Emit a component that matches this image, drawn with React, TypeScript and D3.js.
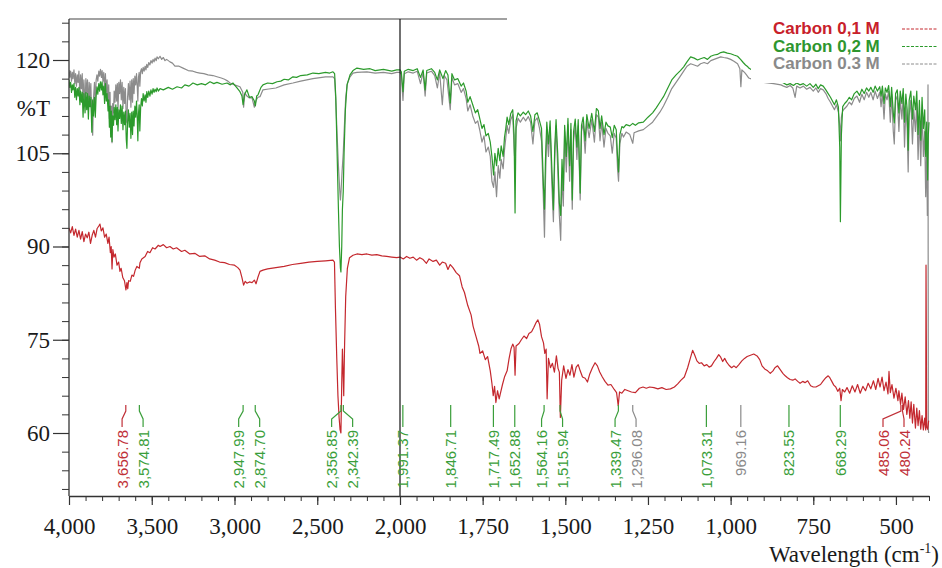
import * as d3 from 'd3';
import React, { useRef, useEffect } from 'react';

type Pt = [number, number];

// wavenumber (cm-1), %T
const carbon01: Pt[] = [
  [4000, 93.0], [3990, 92.2], [3980, 93.2], [3970, 91.8], [3960, 92.8], [3950, 91.5], [3940, 92.6], [3930, 91.2],
  [3920, 92.4], [3910, 90.8], [3900, 92.0], [3890, 91.4], [3880, 92.3], [3870, 90.5], [3860, 91.8], [3850, 92.6],
  [3840, 91.5], [3830, 92.9], [3820, 93.3], [3813, 93.6], [3805, 92.5], [3795, 93.0], [3785, 91.5], [3775, 92.0],
  [3765, 90.5], [3758, 91.5], [3750, 89.0], [3745, 90.0], [3740, 86.4], [3735, 89.5], [3728, 88.3], [3720, 88.8],
  [3710, 87.0], [3700, 87.5], [3692, 86.0], [3685, 86.5], [3675, 85.0], [3665, 84.5], [3656, 83.0], [3650, 84.2],
  [3645, 83.2], [3640, 84.5], [3630, 84.4], [3620, 85.4], [3610, 85.2], [3600, 86.2], [3590, 86.8], [3575, 86.5],
  [3571, 87.4], [3560, 88.0], [3540, 88.4], [3525, 89.2], [3511, 89.0], [3495, 89.8], [3480, 89.6], [3460, 90.2],
  [3450, 90.0], [3430, 90.3], [3410, 89.8], [3390, 90.0], [3370, 89.6], [3350, 89.8], [3320, 89.2], [3300, 89.4],
  [3270, 88.8], [3240, 88.9], [3210, 88.4], [3180, 88.5], [3150, 88.0], [3120, 87.8], [3090, 87.5], [3060, 87.4],
  [3030, 87.1], [3000, 87.0], [2980, 86.6], [2967, 86.2], [2955, 85.0], [2945, 83.8], [2935, 84.4], [2925, 84.1],
  [2910, 84.3], [2894, 84.2], [2880, 84.6], [2870, 84.0], [2858, 85.1], [2846, 86.0], [2828, 86.2], [2800, 86.4],
  [2750, 86.6], [2700, 86.8], [2650, 87.1], [2600, 87.3], [2550, 87.5], [2500, 87.6], [2450, 87.7], [2405, 87.8],
  [2396, 87.5], [2390, 80.0], [2382, 72.0], [2375, 66.0], [2368, 62.5], [2362, 60.5], [2357, 60.0], [2352, 68.0],
  [2348, 73.5], [2344, 70.0], [2340, 66.0], [2335, 74.0], [2328, 82.0], [2318, 86.5], [2305, 88.2], [2284, 88.6],
  [2260, 88.8], [2230, 88.7], [2200, 88.8], [2170, 88.6], [2140, 88.7], [2110, 88.5], [2080, 88.4], [2050, 88.3],
  [2020, 88.2], [2000, 88.3], [1990, 88.0], [1980, 88.4], [1970, 88.1], [1960, 88.3], [1950, 87.8], [1940, 88.2],
  [1930, 87.9], [1920, 87.3], [1912, 88.0], [1900, 87.6], [1890, 87.8], [1880, 87.0], [1872, 87.5], [1862, 87.3],
  [1855, 86.3], [1848, 87.1], [1840, 86.6], [1830, 85.8], [1820, 85.3], [1812, 83.5], [1805, 82.6], [1795, 80.5],
  [1785, 79.0], [1779, 77.2], [1770, 75.5], [1762, 74.0], [1758, 72.8], [1750, 73.2], [1742, 71.8], [1735, 72.3],
  [1727, 70.0], [1722, 68.0], [1718, 66.0], [1714, 67.5], [1710, 64.9], [1705, 66.8], [1700, 65.5], [1697, 66.2],
  [1690, 67.8], [1684, 69.0], [1676, 70.0], [1670, 72.0], [1664, 73.6], [1659, 74.3], [1655, 73.8], [1652, 69.3],
  [1649, 74.0], [1640, 74.4], [1633, 75.0], [1625, 75.6], [1617, 75.2], [1610, 76.0], [1602, 76.3], [1595, 77.0],
  [1588, 77.8], [1583, 78.2], [1578, 77.5], [1572, 75.5], [1566, 74.5], [1562, 72.8], [1558, 73.5], [1555, 65.5],
  [1551, 72.0], [1545, 70.5], [1539, 71.2], [1533, 69.8], [1527, 72.4], [1522, 70.4], [1518, 69.8], [1515, 62.5],
  [1511, 68.5], [1505, 70.8], [1498, 68.8], [1492, 70.2], [1486, 69.3], [1480, 71.0], [1474, 69.0], [1467, 70.6],
  [1461, 71.0], [1455, 70.0], [1448, 69.0], [1440, 68.8], [1433, 68.2], [1426, 69.5], [1418, 70.5], [1410, 71.3],
  [1403, 70.8], [1396, 69.8], [1388, 69.0], [1380, 68.3], [1371, 67.7], [1362, 67.8], [1352, 67.0], [1345, 66.5],
  [1340, 64.4], [1336, 66.6], [1329, 66.4], [1320, 67.0], [1310, 66.8], [1300, 66.6], [1288, 66.5], [1276, 67.2],
  [1265, 67.4], [1255, 67.2], [1245, 67.4], [1232, 67.3], [1220, 67.1], [1208, 67.3], [1195, 67.0], [1182, 67.1],
  [1170, 67.4], [1160, 67.9], [1150, 68.5], [1140, 69.0], [1130, 70.5], [1122, 72.0], [1115, 73.3], [1109, 72.6],
  [1102, 71.6], [1095, 71.2], [1088, 71.3], [1080, 70.8], [1072, 71.0], [1065, 70.6], [1058, 70.8], [1050, 71.5],
  [1043, 72.0], [1036, 72.6], [1030, 72.2], [1024, 71.5], [1018, 72.0], [1012, 71.4], [1005, 70.9], [997, 70.5],
  [990, 70.8], [983, 70.5], [975, 71.0], [966, 71.6], [958, 72.0], [950, 72.3], [940, 72.5], [930, 72.7],
  [920, 72.4], [912, 71.8], [905, 70.8], [897, 70.3], [888, 70.0], [880, 69.6], [872, 70.0], [866, 70.5],
  [858, 70.8], [850, 70.2], [842, 69.6], [835, 69.2], [828, 68.9], [820, 68.6], [812, 68.5], [805, 68.7],
  [797, 68.3], [790, 68.0], [782, 68.3], [775, 68.1], [767, 68.4], [758, 67.6], [750, 67.4], [742, 67.4],
  [735, 67.6], [728, 67.8], [720, 68.4], [712, 68.9], [705, 69.2], [700, 68.9], [694, 68.3], [688, 67.7],
  [682, 67.4], [676, 66.7], [670, 67.2], [666, 65.2], [662, 67.0], [655, 66.6], [648, 67.3], [640, 66.4],
  [632, 67.6], [624, 66.6], [616, 67.8], [608, 66.4], [600, 67.5], [592, 66.8], [584, 68.0], [576, 67.1],
  [568, 68.4], [561, 67.0], [554, 68.8], [548, 67.4], [542, 69.0], [536, 66.8], [530, 68.2], [524, 66.3],
  [521, 69.9], [517, 66.5], [512, 67.8], [506, 65.6], [500, 67.2], [494, 65.2], [491, 66.8], [486, 64.6],
  [482, 66.4], [477, 63.8], [472, 65.8], [467, 63.0], [462, 65.2], [458, 62.4], [454, 65.0], [450, 61.6],
  [446, 64.6], [441, 60.8], [437, 64.0], [433, 61.2], [429, 63.6], [425, 60.6], [421, 62.8], [417, 60.5],
  [413, 62.4], [410, 60.5], [409, 87.0], [407, 61.0], [404, 60.6], [401, 62.0]
];

const carbon02: Pt[] = [
  [4000, 116.8], [3995, 115.6], [3990, 116.4], [3985, 114.8], [3980, 116.0], [3976, 115.2], [3970, 116.2], [3965, 114.0],
  [3960, 115.6], [3955, 113.6], [3950, 115.4], [3945, 114.2], [3940, 115.6], [3934, 112.8], [3930, 115.0], [3925, 113.2],
  [3920, 114.8], [3915, 110.8], [3910, 114.6], [3903, 111.5], [3898, 114.8], [3893, 112.0], [3888, 114.6], [3883, 110.5],
  [3878, 114.2], [3873, 112.5], [3868, 114.0], [3862, 108.4], [3857, 113.6], [3852, 111.0], [3846, 114.0], [3841, 110.8],
  [3836, 114.2], [3831, 115.7], [3826, 114.5], [3820, 116.2], [3815, 115.0], [3810, 116.5], [3804, 115.2], [3800, 116.5],
  [3795, 114.4], [3790, 115.8], [3785, 113.0], [3780, 116.2], [3775, 113.4], [3770, 114.6], [3764, 111.8], [3760, 113.6],
  [3756, 109.2], [3752, 112.6], [3748, 107.6], [3744, 111.8], [3740, 106.9], [3736, 111.0], [3731, 109.5], [3727, 112.4],
  [3722, 110.4], [3717, 112.8], [3712, 109.6], [3708, 112.4], [3704, 108.6], [3699, 112.0], [3694, 110.6], [3689, 112.8],
  [3684, 109.8], [3679, 112.6], [3674, 108.8], [3669, 111.6], [3664, 109.6], [3659, 111.8], [3654, 107.2], [3650, 105.8],
  [3646, 110.0], [3641, 112.0], [3636, 109.2], [3631, 111.4], [3626, 107.4], [3621, 111.6], [3616, 108.0], [3612, 111.8],
  [3607, 109.4], [3602, 112.6], [3597, 110.8], [3592, 113.4], [3588, 111.0], [3584, 107.0], [3580, 111.4], [3576, 112.8],
  [3572, 108.6], [3567, 112.4], [3562, 113.8], [3557, 112.6], [3552, 114.6], [3546, 113.4], [3540, 114.4], [3535, 113.2],
  [3530, 114.9], [3524, 114.0], [3518, 115.0], [3511, 114.2], [3505, 115.2], [3498, 114.5], [3492, 115.4], [3486, 114.8],
  [3480, 115.3], [3473, 114.9], [3468, 115.5], [3460, 115.0], [3450, 115.4], [3430, 115.2], [3400, 115.6], [3375, 115.3],
  [3347, 115.7], [3320, 115.5], [3300, 116.0], [3275, 115.8], [3251, 116.3], [3225, 116.0], [3200, 116.2], [3175, 116.0],
  [3148, 116.5], [3125, 116.2], [3106, 116.4], [3075, 116.1], [3045, 116.3], [3025, 116.0], [3009, 116.3], [2985, 115.5],
  [2967, 114.9], [2955, 114.2], [2948, 112.8], [2940, 114.4], [2925, 115.2], [2910, 114.0], [2894, 114.1], [2880, 113.4],
  [2874, 112.6], [2866, 114.2], [2858, 114.4], [2840, 115.6], [2828, 116.0], [2800, 116.3], [2770, 116.2], [2743, 116.5],
  [2720, 116.6], [2700, 116.9], [2675, 116.8], [2647, 117.3], [2625, 117.2], [2600, 117.5], [2560, 117.6], [2526, 117.9],
  [2490, 117.8], [2450, 118.0], [2425, 117.9], [2405, 118.1], [2395, 117.8], [2388, 114.0], [2380, 105.0], [2372, 96.0],
  [2366, 90.0], [2360, 86.5], [2357, 85.9], [2352, 90.0], [2348, 96.0], [2343, 98.8], [2338, 105.0], [2330, 112.0],
  [2320, 116.0], [2302, 117.6], [2284, 118.3], [2260, 118.7], [2220, 118.5], [2181, 118.6], [2150, 118.3], [2100, 118.5],
  [2050, 118.2], [2020, 118.4], [2000, 118.4], [1996, 118.1], [1991, 114.9], [1987, 118.2], [1975, 118.5], [1960, 118.3],
  [1948, 118.6], [1938, 117.2], [1930, 118.4], [1924, 115.2], [1919, 118.3], [1905, 118.6], [1895, 118.0], [1887, 116.8],
  [1880, 118.4], [1870, 117.0], [1862, 118.3], [1855, 117.6], [1848, 113.1], [1843, 117.8], [1835, 116.8], [1825, 117.0],
  [1815, 115.8], [1808, 116.3], [1800, 115.0], [1795, 113.2], [1788, 114.1], [1780, 112.8], [1772, 111.5], [1765, 112.0],
  [1758, 110.4], [1752, 109.0], [1746, 109.6], [1740, 107.8], [1733, 108.2], [1727, 106.8], [1722, 104.5], [1717, 101.5],
  [1713, 105.0], [1708, 103.0], [1703, 105.8], [1698, 103.8], [1694, 106.2], [1688, 104.5], [1684, 107.5], [1680, 109.0],
  [1676, 110.8], [1671, 109.6], [1665, 111.4], [1659, 112.0], [1655, 108.0], [1652, 95.4], [1649, 110.2], [1643, 111.5],
  [1636, 111.0], [1627, 111.6], [1620, 111.2], [1612, 111.8], [1605, 111.0], [1598, 108.5], [1592, 111.2], [1585, 111.5],
  [1578, 110.2], [1572, 109.0], [1566, 99.5], [1563, 96.0], [1560, 104.0], [1556, 110.0], [1551, 106.5], [1546, 110.2],
  [1541, 103.0], [1536, 95.9], [1532, 106.0], [1528, 110.4], [1523, 105.0], [1518, 97.0], [1514, 95.0], [1510, 104.0],
  [1506, 99.0], [1502, 109.5], [1497, 104.5], [1492, 110.6], [1487, 103.0], [1483, 109.8], [1479, 97.5], [1475, 108.5],
  [1470, 110.5], [1465, 106.0], [1461, 110.4], [1455, 98.6], [1451, 109.5], [1446, 110.8], [1440, 107.0], [1435, 111.2],
  [1428, 109.0], [1420, 111.4], [1412, 108.5], [1406, 112.2], [1400, 111.8], [1395, 109.0], [1390, 111.0], [1383, 108.0],
  [1377, 110.0], [1371, 109.4], [1364, 109.2], [1358, 107.5], [1352, 109.5], [1346, 108.8], [1342, 104.5], [1339, 102.0],
  [1335, 108.0], [1329, 109.3], [1324, 109.1], [1316, 109.6], [1305, 109.4], [1296, 109.8], [1288, 109.5], [1278, 109.9],
  [1264, 110.0], [1250, 110.8], [1236, 111.5], [1225, 112.3], [1214, 113.2], [1203, 114.1], [1190, 115.5], [1178, 116.8],
  [1165, 117.6], [1152, 118.3], [1142, 118.9], [1132, 119.7], [1121, 120.5], [1110, 120.3], [1100, 120.0], [1091, 120.2],
  [1080, 120.4], [1070, 120.1], [1060, 120.6], [1050, 120.8], [1040, 120.9], [1030, 121.2], [1021, 121.3], [1010, 121.1],
  [1000, 121.0], [990, 120.8], [979, 120.6], [970, 120.1], [962, 119.6], [955, 119.2], [948, 118.9], [945, 118.7],
  [930, 118.2], [900, 117.5], [870, 116.9], [848, 116.5], [840, 116.3], [830, 116.0], [820, 116.2], [810, 115.9],
  [800, 116.3], [790, 116.0], [780, 116.2], [770, 115.8], [760, 116.2], [750, 115.6], [742, 116.1], [735, 115.4],
  [728, 116.0], [720, 115.8], [712, 115.2], [705, 114.6], [698, 114.0], [692, 113.4], [686, 112.8], [680, 113.6],
  [674, 112.4], [670, 106.0], [668, 94.0], [665, 108.0], [661, 112.5], [655, 113.0], [648, 113.4], [641, 114.0],
  [634, 113.6], [626, 114.6], [618, 115.0], [610, 114.3], [603, 115.3], [596, 114.6], [589, 115.5], [582, 115.0],
  [576, 115.6], [569, 114.8], [563, 115.8], [556, 115.0], [549, 115.7], [545, 114.2], [541, 115.8], [536, 113.0],
  [532, 115.5], [527, 114.8], [522, 115.9], [517, 112.5], [513, 115.6], [508, 111.5], [505, 109.9], [501, 114.6],
  [496, 115.2], [491, 111.5], [487, 115.0], [482, 113.0], [478, 115.4], [474, 110.0], [470, 114.5], [466, 112.0],
  [463, 105.5], [460, 113.5], [455, 115.0], [450, 110.5], [446, 114.2], [441, 112.0], [437, 115.0], [433, 108.0],
  [429, 113.5], [425, 107.1], [421, 114.0], [417, 109.0], [413, 112.0], [410, 104.5], [407, 110.0], [404, 100.7],
  [402, 108.0], [400, 110.0]
];

const carbon03: Pt[] = [
  [4000, 118.4], [3995, 117.2], [3990, 118.2], [3985, 116.6], [3980, 118.0], [3976, 117.0], [3970, 118.4], [3965, 116.2],
  [3960, 117.8], [3955, 115.8], [3950, 117.6], [3945, 116.4], [3940, 118.2], [3934, 114.2], [3930, 117.6], [3925, 115.4],
  [3920, 117.8], [3915, 113.0], [3910, 116.8], [3903, 112.6], [3898, 117.0], [3893, 114.6], [3888, 116.8], [3883, 112.0],
  [3878, 116.4], [3873, 114.0], [3868, 116.2], [3862, 109.8], [3857, 107.9], [3852, 113.8], [3846, 116.4], [3841, 113.0],
  [3836, 116.8], [3831, 117.6], [3826, 116.6], [3820, 118.2], [3815, 117.4], [3810, 118.5], [3804, 117.2], [3800, 118.3],
  [3795, 116.6], [3790, 118.0], [3785, 115.2], [3780, 117.8], [3775, 114.6], [3770, 116.8], [3764, 113.0], [3760, 116.0],
  [3756, 110.6], [3752, 114.8], [3748, 108.2], [3744, 112.6], [3740, 106.7], [3736, 113.0], [3731, 111.5], [3727, 115.0],
  [3722, 113.2], [3717, 116.0], [3712, 113.4], [3708, 116.2], [3704, 112.0], [3699, 116.4], [3694, 114.6], [3689, 116.8],
  [3684, 113.6], [3679, 116.4], [3674, 112.2], [3669, 115.6], [3664, 113.0], [3659, 115.4], [3654, 110.4], [3650, 109.9],
  [3646, 114.0], [3641, 116.2], [3636, 113.6], [3631, 116.6], [3626, 112.4], [3621, 116.8], [3616, 113.2], [3612, 117.0],
  [3607, 114.6], [3602, 117.4], [3597, 116.0], [3592, 117.8], [3588, 116.0], [3584, 113.4], [3580, 117.2], [3576, 118.0],
  [3572, 115.8], [3567, 118.2], [3562, 118.6], [3557, 117.8], [3552, 118.8], [3546, 118.2], [3540, 119.0], [3535, 118.4],
  [3530, 119.3], [3524, 118.8], [3518, 119.6], [3511, 119.2], [3505, 119.9], [3498, 119.5], [3492, 120.1], [3486, 119.7],
  [3480, 120.3], [3473, 119.9], [3468, 120.5], [3460, 120.2], [3450, 120.6], [3440, 120.1], [3430, 120.4], [3420, 119.9],
  [3410, 120.1], [3390, 119.7], [3375, 119.5], [3360, 119.0], [3335, 119.0], [3311, 118.7], [3280, 118.3], [3251, 118.2],
  [3230, 118.0], [3209, 117.9], [3185, 117.8], [3160, 117.6], [3130, 117.5], [3106, 117.3], [3080, 117.1], [3060, 116.9],
  [3040, 116.6], [3027, 116.3], [3000, 116.0], [2967, 115.7], [2950, 114.8], [2945, 112.4], [2937, 114.7], [2925, 114.2],
  [2910, 113.9], [2894, 113.9], [2880, 112.4], [2870, 113.5], [2858, 114.0], [2846, 114.1], [2828, 115.2], [2804, 115.3],
  [2750, 115.5], [2700, 116.0], [2647, 116.3], [2600, 116.6], [2526, 117.0], [2450, 117.3], [2405, 117.3], [2395, 117.0],
  [2388, 113.5], [2380, 108.0], [2372, 103.0], [2364, 99.0], [2360, 97.5], [2356, 99.0], [2350, 102.0], [2343, 105.0],
  [2335, 110.0], [2328, 114.0], [2318, 116.2], [2302, 117.3], [2284, 117.9], [2260, 118.0], [2200, 118.1], [2150, 117.9],
  [2100, 118.0], [2050, 117.8], [2020, 118.0], [2000, 118.0], [1996, 117.7], [1991, 113.5], [1987, 117.8], [1975, 118.1],
  [1960, 117.9], [1948, 118.2], [1938, 116.2], [1930, 118.0], [1924, 114.2], [1919, 117.9], [1905, 118.2], [1895, 117.5],
  [1887, 115.5], [1880, 118.0], [1872, 112.8], [1866, 117.5], [1858, 116.8], [1848, 112.0], [1843, 117.2], [1835, 116.0],
  [1825, 116.2], [1815, 114.8], [1808, 115.4], [1800, 113.8], [1795, 111.8], [1788, 112.8], [1780, 111.0], [1772, 109.8],
  [1765, 110.2], [1758, 108.5], [1752, 106.8], [1746, 107.8], [1740, 105.2], [1733, 106.0], [1727, 104.5], [1722, 100.5],
  [1717, 99.5], [1713, 102.0], [1708, 98.0], [1703, 103.0], [1698, 101.0], [1694, 104.0], [1688, 102.5], [1684, 105.5],
  [1680, 107.5], [1676, 109.5], [1671, 108.2], [1665, 110.4], [1659, 111.2], [1655, 106.0], [1652, 103.0], [1649, 109.0],
  [1643, 110.6], [1636, 110.0], [1627, 110.8], [1620, 110.2], [1612, 110.9], [1605, 110.0], [1598, 106.5], [1592, 110.2],
  [1585, 110.7], [1578, 109.0], [1572, 107.0], [1566, 97.0], [1563, 91.5], [1560, 100.5], [1556, 108.8], [1551, 104.5],
  [1546, 109.2], [1541, 100.5], [1536, 94.0], [1532, 104.0], [1528, 109.4], [1523, 102.5], [1518, 95.0], [1514, 91.0],
  [1510, 101.5], [1506, 96.5], [1502, 108.5], [1497, 102.0], [1492, 109.6], [1487, 100.5], [1483, 108.8], [1479, 96.0],
  [1475, 107.0], [1470, 109.5], [1465, 104.0], [1461, 109.4], [1455, 97.5], [1451, 108.5], [1446, 109.8], [1440, 105.0],
  [1435, 110.2], [1428, 107.5], [1420, 110.4], [1412, 106.8], [1406, 111.2], [1400, 110.8], [1395, 107.0], [1390, 110.0],
  [1383, 106.0], [1377, 109.0], [1371, 108.2], [1364, 107.8], [1358, 105.0], [1352, 108.2], [1346, 107.4], [1342, 102.5],
  [1339, 100.5], [1335, 106.5], [1329, 108.2], [1324, 107.6], [1316, 108.4], [1305, 108.0], [1296, 106.6], [1292, 108.3],
  [1278, 108.6], [1264, 108.8], [1250, 109.4], [1236, 110.0], [1225, 110.8], [1214, 111.6], [1203, 112.6], [1190, 114.0],
  [1178, 115.4], [1165, 116.4], [1152, 117.4], [1142, 118.2], [1132, 119.0], [1121, 119.4], [1110, 119.2], [1100, 119.0],
  [1091, 119.4], [1080, 119.6], [1070, 119.4], [1060, 119.9], [1050, 120.1], [1040, 120.3], [1030, 120.5], [1021, 120.4],
  [1010, 120.3], [1000, 120.1], [990, 119.8], [979, 119.4], [972, 118.6], [969, 115.7], [966, 118.4], [958, 118.0],
  [952, 117.6], [945, 117.1], [930, 116.8], [900, 116.4], [870, 116.2], [848, 116.0], [840, 115.8], [830, 115.6],
  [820, 115.9], [812, 115.5], [805, 114.0], [800, 115.8], [790, 115.5], [780, 115.8], [770, 115.3], [760, 115.6],
  [750, 115.0], [742, 115.5], [735, 114.8], [728, 115.4], [720, 115.2], [712, 114.6], [705, 113.8], [698, 113.2],
  [692, 112.6], [686, 112.0], [680, 112.8], [674, 111.6], [670, 109.5], [668, 107.0], [665, 110.8], [661, 111.8],
  [655, 112.2], [648, 112.6], [641, 113.2], [634, 112.8], [626, 113.8], [618, 114.2], [610, 113.2], [603, 114.5],
  [596, 113.6], [589, 114.8], [582, 114.0], [576, 114.8], [569, 113.6], [563, 115.0], [556, 113.8], [549, 114.8],
  [545, 112.5], [541, 114.8], [536, 110.5], [532, 114.5], [527, 113.6], [522, 115.0], [517, 110.0], [513, 114.5],
  [508, 108.5], [505, 106.5], [501, 113.5], [496, 114.2], [491, 108.5], [487, 113.8], [482, 110.5], [478, 114.2],
  [474, 106.0], [470, 112.5], [466, 109.0], [463, 102.0], [460, 111.0], [455, 113.5], [450, 106.5], [446, 112.0],
  [441, 108.5], [437, 113.0], [433, 104.0], [429, 111.0], [425, 103.0], [421, 112.0], [417, 104.5], [413, 108.5],
  [410, 98.0], [407, 106.0], [405, 95.0], [403, 116.0], [402, 60.5], [401, 60.0]
];

const seriesNames = ['Carbon 0,1 M', 'Carbon 0,2 M', 'Carbon 0.3 M'];

// labelled peaks and the spectrum each label belongs to (0 = 0,1 M, 1 = 0,2 M, 2 = 0.3 M)
const peakWavenumbers = [3656.78, 3574.81, 2947.99, 2874.70, 2356.85, 2342.39, 1991.37, 1846.71, 1717.49, 1652.88,
  1564.16, 1515.94, 1339.47, 1296.08, 1073.31, 969.16, 823.55, 668.29, 485.06, 480.24];
const peakSeries = [0, 1, 1, 1, 1, 1, 1, 1, 1, 1, 1, 1, 1, 2, 1, 2, 1, 1, 0, 0];

const xTickValues = [4000, 3500, 3000, 2500, 2000, 1750, 1500, 1250, 1000, 750, 500];
const yTickValues = [60, 75, 90, 105, 120];

const lineColors = ['#c4282e', '#2b9a2b', '#8c8c8c'];
const textColors = ['#c8202a', '#2e962e', '#8a8a8a'];
const labelColors = ['#c03038', '#3a9e3a', '#8a8a8a'];
const serif = '"Liberation Serif", "Times New Roman", serif';
const sans = '"Liberation Sans", Arial, sans-serif';

function Spectrum({ width, height }: { width: number; height: number }) {
  const ref = useRef<SVGSVGElement>(null);

  useEffect(() => {
    const svg = d3.select(ref.current);
    svg.selectAll('*').remove();

    const top = 19, bottom = 496, left = 69;
    const x = d3.scaleLinear().domain([4000, 2000, 400]).range([left, 400, 929]);
    const y = d3.scaleLinear().domain([60, 120]).range([433, 60]);

    svg.append('defs').append('clipPath').attr('id', 'plot-clip')
      .append('rect').attr('x', left).attr('y', top).attr('width', 929 - left + 2).attr('height', bottom - top);

    // spectra
    const line = d3.line<Pt>().x(d => x(d[0])).y(d => y(d[1]));
    const plot = svg.append('g').attr('clip-path', 'url(#plot-clip)');
    [carbon03, carbon02, carbon01].forEach((data, i) => {
      const idx = 2 - i;
      plot.append('path')
        .datum(data)
        .attr('d', line)
        .attr('fill', 'none')
        .attr('stroke', lineColors[idx])
        .attr('stroke-width', 1.2)
        .attr('stroke-linejoin', 'round');
    });

    // frame: top line and 2000 divider
    svg.append('line').attr('x1', left).attr('x2', 507).attr('y1', top).attr('y2', top)
      .attr('stroke', '#444').attr('stroke-width', 1.2);
    svg.append('line').attr('x1', x(2000)).attr('x2', x(2000)).attr('y1', top).attr('y2', bottom)
      .attr('stroke', '#111').attr('stroke-width', 1.2);

    // peak labels, spread apart where peaks sit close together
    const px = peakWavenumbers.map(w => x(w));
    const lx = px.slice();
    for (let it = 0; it < 80; it++) {
      for (let i = 1; i < lx.length; i++) {
        const gap = lx[i] - lx[i - 1];
        if (gap < 21) { const s = (21 - gap) / 2; lx[i - 1] -= s; lx[i] += s; }
      }
      for (let i = 0; i < lx.length; i++) lx[i] = Math.min(lx[i], 904);
    }
    const peaks = svg.append('g');
    peakWavenumbers.forEach((w, i) => {
      const c = labelColors[peakSeries[i]];
      peaks.append('path')
        .attr('d', `M${px[i]},405V411L${lx[i]},419V427`)
        .attr('fill', 'none').attr('stroke', c).attr('stroke-width', 1.2);
      peaks.append('text')
        .attr('transform', `translate(${lx[i]},430) rotate(-90)`)
        .attr('text-anchor', 'end')
        .attr('dominant-baseline', 'central')
        .style('font-family', sans)
        .style('font-size', '15px')
        .attr('fill', c)
        .text(d3.format(',.2f')(w));
    });

    // x axis
    const minorX = d3.range(4000, 2000, -100).concat(d3.range(2000, 399, -50));
    svg.append('g').attr('transform', `translate(0,${bottom})`)
      .call(d3.axisBottom(x).tickValues(minorX).tickSize(5).tickFormat(() => ''))
      .call(g => g.select('.domain').remove())
      .call(g => g.selectAll('line').attr('stroke', '#333'));
    svg.append('g').attr('transform', `translate(0,${bottom})`)
      .call(d3.axisBottom(x).tickValues(xTickValues).tickSizeInner(9).tickSizeOuter(0).tickPadding(13)
        .tickFormat(d => d3.format(',')(d as number)))
      .call(g => g.select('.domain').attr('stroke', '#333').attr('stroke-width', 1.3))
      .call(g => g.selectAll('line').attr('stroke', '#333').attr('stroke-width', 1.2))
      .call(g => g.selectAll('text').style('font-family', serif).style('font-size', '23px').attr('fill', '#1a1a1a'));

    // y axis
    const minorY = d3.range(51, 127, 3);
    svg.append('g').attr('transform', `translate(${left},0)`)
      .call(d3.axisLeft(y).tickValues(minorY).tickSize(7).tickFormat(() => ''))
      .call(g => g.select('.domain').remove())
      .call(g => g.selectAll('line').attr('stroke', '#333'));
    svg.append('g').attr('transform', `translate(${left},0)`)
      .call(d3.axisLeft(y).tickValues(yTickValues).tickSizeInner(16).tickSizeOuter(0).tickPadding(3))
      .call(g => g.select('.domain').attr('d', `M0,${top}V${bottom}`).attr('stroke', '#333').attr('stroke-width', 1.3))
      .call(g => g.selectAll('line').attr('stroke', '#333').attr('stroke-width', 1.2))
      .call(g => g.selectAll('text').style('font-family', serif).style('font-size', '23px').attr('fill', '#1a1a1a'));

    svg.append('text').attr('x', 50).attr('y', 116).attr('text-anchor', 'end')
      .style('font-family', serif).style('font-size', '23px').attr('fill', '#1a1a1a').text('%T');

    // x axis title
    const title = svg.append('text').attr('x', 939).attr('y', 562).attr('text-anchor', 'end')
      .style('font-family', serif).style('font-size', '23px').attr('fill', '#1a1a1a');
    title.append('tspan').text('Wavelength (cm');
    title.append('tspan').attr('dy', -9).style('font-size', '14px').text('-1');
    title.append('tspan').attr('dy', 9).text(')');

    // legend (white box over the traces)
    const legend = svg.append('g');
    legend.append('rect').attr('x', 751).attr('y', 12).attr('width', 191).attr('height', 71).attr('fill', '#fff');
    seriesNames.forEach((name, i) => {
      const ly = 29 + i * 17.5;
      legend.append('text').attr('x', 773).attr('y', ly + 5)
        .style('font-family', sans).style('font-size', '17px').style('font-weight', 'bold')
        .attr('fill', textColors[i]).text(name);
      legend.append('line').attr('x1', 902).attr('x2', 937).attr('y1', ly).attr('y2', ly)
        .attr('stroke', lineColors[i]).attr('stroke-width', 1).attr('stroke-dasharray', '3,1.5');
    });
  }, [width, height]);

  return (
    <svg ref={ref} width={width} height={height}
      style={{ position: 'absolute', left: 0, top: 0, background: '#fff' }} />
  );
}

export default function App() {
  return <Spectrum width={942} height={568} />;
}
